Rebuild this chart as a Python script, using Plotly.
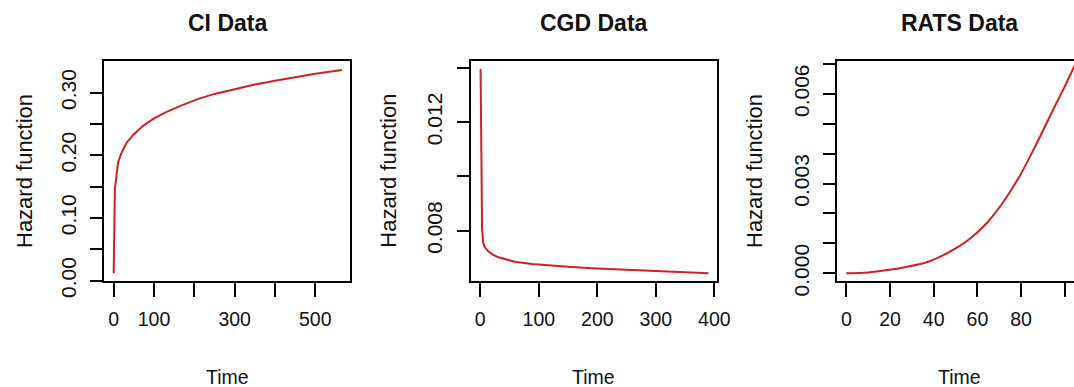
import plotly.graph_objects as go

W, H = 1074, 387

# ---- data ----
ci_time = [0, 1, 3, 6, 11, 20, 32, 49, 73, 100, 130, 170, 210, 250, 300, 350, 400, 450, 500, 566]
ci_hazard = [0.012, 0.083, 0.147, 0.163, 0.189, 0.205, 0.220, 0.233, 0.247, 0.259, 0.269, 0.280,
             0.290, 0.298, 0.306, 0.313, 0.319, 0.325, 0.330, 0.336]

cgd_time = [0.5, 1, 2, 3, 5, 8, 14, 22, 31, 45, 59, 88, 120, 150, 190, 245, 300, 350, 390]
cgd_hazard = [0.01395, 0.0125, 0.0100, 0.0081, 0.00755, 0.00738, 0.00723, 0.00711, 0.00702,
              0.00693, 0.00686, 0.00677, 0.00671, 0.00667, 0.00662, 0.00657, 0.00652, 0.00647, 0.00643]

rats_time = [0, 10, 19, 28, 36, 44, 50, 57, 64.5, 72, 80, 87.5, 95, 100, 104.2, 106]
rats_hazard = [0.0, 0.00003, 0.00011, 0.00022, 0.00035, 0.00059, 0.00083, 0.00118, 0.0017,
               0.0024, 0.00334, 0.0044, 0.00552, 0.00625, 0.0069, 0.00718]

titles = ["CI Data", "CGD Data", "RATS Data"]
x_label = "Time"
y_label = "Hazard function"

ci_xticks = [0, 100, 200, 300, 400, 500]
ci_xtext = ["0", "100", "", "300", "", "500"]
ci_yticks = [0.00, 0.05, 0.10, 0.15, 0.20, 0.25, 0.30]
ci_ytext = ["0.00", "", "0.10", "", "0.20", "", "0.30"]

cgd_xticks = [0, 100, 200, 300, 400]
cgd_xtext = ["0", "100", "200", "300", "400"]
cgd_yticks = [0.008, 0.010, 0.012, 0.014]
cgd_ytext = ["0.008", "", "0.012", ""]

rats_xticks = [0, 20, 40, 60, 80, 100]
rats_xtext = ["0", "20", "40", "60", "80", ""]
rats_yticks = [0.000, 0.001, 0.002, 0.003, 0.004, 0.005, 0.006, 0.007]
rats_ytext = ["0.000", "", "", "0.003", "", "", "0.006", ""]

# ---- layout geometry (pixels) ----
box_left = [104.3, 470.7, 837.3]
box_right = [350.0, 717.0, 1074.0]
box_center = [227.0, 593.8, 959.7]
box_top, box_bottom = 61.0, 281.0
ylab_x = [24.0, 387.7, 754.0]

x_ranges = [[-23.3, 586.1], [-16.4, 404.6], [-4.12, 104.2]]
y_ranges = [[-0.0005, 0.3505], [0.006148, 0.014246], [-0.000258, 0.0071]]

RED = "#CD2027"
FONT = "Liberation Sans, Arial, sans-serif"
TXT = "#111111"

fig = go.Figure()
series = [(ci_time, ci_hazard, "linear"), (cgd_time, cgd_hazard, "linear"),
          (rats_time, rats_hazard, "spline")]
xt = [(ci_xticks, ci_xtext), (cgd_xticks, cgd_xtext), (rats_xticks, rats_xtext)]
yt = [(ci_yticks, ci_ytext), (cgd_yticks, cgd_ytext), (rats_yticks, rats_ytext)]

for i, (tx, hy, shp) in enumerate(series):
    n = "" if i == 0 else str(i + 1)
    fig.add_trace(go.Scatter(x=tx, y=hy, mode="lines",
                             line=dict(color=RED, width=2, shape=shp),
                             xaxis="x" + n, yaxis="y" + n, showlegend=False, hoverinfo="skip"))
    xd = [box_left[i] / W, box_right[i] / W]
    yd = [1 - box_bottom / H, 1 - box_top / H]
    fig.update_layout(**{
        "xaxis" + n: dict(domain=xd, range=x_ranges[i], anchor="y" + n, automargin=False,
                          showline=True, linecolor="black", linewidth=1.7, mirror=True,
                          ticks="outside", ticklen=14, tickwidth=1.5, tickcolor="black",
                          tickvals=xt[i][0], ticktext=xt[i][1],
                          tickfont=dict(family=FONT, size=19.5, color=TXT),
                          ticklabelstandoff=6,
                          showgrid=False, zeroline=False, fixedrange=True),
        "yaxis" + n: dict(domain=yd, range=y_ranges[i], anchor="x" + n, automargin=False,
                          showline=True, linecolor="black", linewidth=1.7,
                          mirror=(i < 2),
                          ticks="outside", ticklen=12, tickwidth=1.5, tickcolor="black",
                          tickvals=yt[i][0], ticktext=yt[i][1], tickangle=-90,
                          tickfont=dict(family=FONT, size=21, color=TXT),
                          ticklabelstandoff=6,
                          showgrid=False, zeroline=False, fixedrange=True),
    })
    # titles and axis labels
    fig.add_annotation(text="<b>%s</b>" % titles[i], x=box_center[i] / W, y=1 - 23.3 / H,
                       xref="paper", yref="paper", xanchor="center", yanchor="middle",
                       showarrow=False, font=dict(family=FONT, size=23, color=TXT))
    fig.add_annotation(text=x_label, x=box_center[i] / W, y=1 - 376.7 / H,
                       xref="paper", yref="paper", xanchor="center", yanchor="middle",
                       showarrow=False, font=dict(family=FONT, size=19.5, color=TXT))
    fig.add_annotation(text=y_label, x=ylab_x[i] / W, y=1 - 171.0 / H, textangle=-90,
                       xref="paper", yref="paper", xanchor="center", yanchor="middle",
                       showarrow=False, font=dict(family=FONT, size=22, color=TXT))

fig.update_layout(template="none", width=W, height=H,
                  margin=dict(l=0, r=0, t=0, b=0, pad=0, autoexpand=False),
                  paper_bgcolor="white", plot_bgcolor="white")

fig.write_html("out.html", config={"displayModeBar": False},
               post_script="document.body.style.margin='0px';")
